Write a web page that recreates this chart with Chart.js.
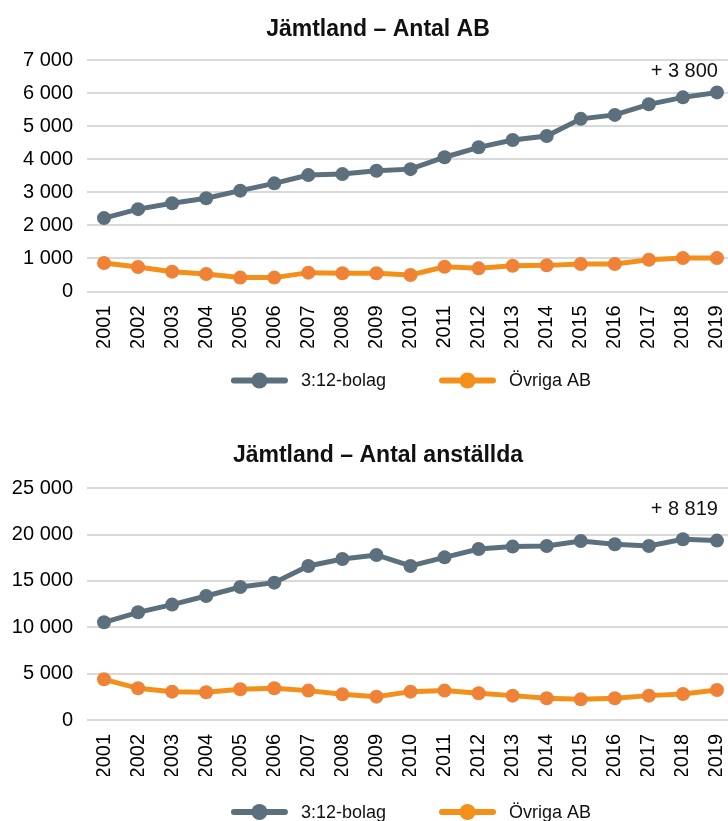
<!DOCTYPE html>
<html>
<head>
<meta charset="utf-8">
<script src="https://cdn.jsdelivr.net/npm/chart.js@4/dist/chart.umd.min.js"></script>
<style>
  html, body { margin: 0; padding: 0; background: #fff; overflow: hidden; width: 728px; height: 821px; }
  canvas { position: absolute; left: 0; }
  #chartAB { top: 0; }
  #chartAnst { top: 425px; }
</style>
</head>
<body>
<canvas id="chartAB" width="741" height="400"></canvas>
<canvas id="chartAnst" width="741" height="406"></canvas>
<script>
const years = ['2001', '2002', '2003', '2004', '2005', '2006', '2007', '2008', '2009', '2010',
               '2011', '2012', '2013', '2014', '2015', '2016', '2017', '2018', '2019'];
const seriesNames = ['3:12-bolag', 'Övriga AB'];

// Antal AB
const ab312 = [2220, 2490, 2670, 2820, 3050, 3270, 3520, 3550, 3650, 3700,
               4060, 4360, 4580, 4700, 5220, 5340, 5660, 5870, 6020];
const abOvriga = [860, 740, 600, 530, 420, 420, 570, 550, 550, 500,
                  750, 700, 780, 790, 830, 830, 960, 1010, 1010];

// Antal anställda
const anst312 = [10540, 11620, 12450, 13380, 14350, 14820, 16620, 17370, 17810, 16620,
                 17550, 18450, 18710, 18780, 19320, 18960, 18780, 19500, 19359];
const anstOvriga = [4390, 3420, 3060, 2990, 3310, 3420, 3170, 2770, 2520, 3060,
                    3170, 2880, 2630, 2340, 2230, 2340, 2630, 2810, 3240];

const grey = '#5b6f7d';
const orange = '#f39019';
const orangeDot = '#ef8236';
const FONT = '"Liberation Sans", Arial, sans-serif';

function fmt(v) {
  return String(v).replace(/\B(?=(\d{3})+(?!\d))/g, ' ');
}

// title, end annotation and Excel-style legend (line + dot)
const extras = {
  id: 'extras',
  afterDraw(chart, args, o) {
    const ctx = chart.ctx;
    const area = chart.chartArea;
    ctx.save();

    ctx.font = 'bold 23px ' + FONT;
    ctx.fillStyle = '#111';
    ctx.textAlign = 'center';
    ctx.textBaseline = 'alphabetic';
    ctx.fillText(o.title, o.titleX, o.titleY);

    const xe = chart.scales.x.getPixelForValue(years.length - 1);
    ctx.font = '20px ' + FONT;
    ctx.textAlign = 'right';
    ctx.textBaseline = 'middle';
    ctx.fillText(o.endText, xe + 1, chart.scales.y.getPixelForValue(o.endValue));

    ctx.font = '18px ' + FONT;
    const widths = chart.data.datasets.map(d => ctx.measureText(d.label).width);
    const total = widths.reduce((a, w) => a + 57 + 13 + w, 0) + 53 * (widths.length - 1);
    let x = o.legendCenter - total / 2;
    const y = area.bottom + o.legendGap;
    chart.data.datasets.forEach((d, i) => {
      ctx.strokeStyle = d.borderColor;
      ctx.fillStyle = d.borderColor;
      ctx.lineWidth = 6;
      ctx.lineCap = 'round';
      ctx.beginPath(); ctx.moveTo(x + 3, y); ctx.lineTo(x + 54, y); ctx.stroke();
      ctx.beginPath(); ctx.arc(x + 28.5, y, 8, 0, Math.PI * 2); ctx.fill();
      ctx.fillStyle = '#111';
      ctx.textAlign = 'left';
      ctx.fillText(d.label, x + 70, y + 1);
      x += 57 + 13 + widths[i] + 53;
    });
    ctx.restore();
  }
};

function makeChart(id, s1, s2, yMax, yStep, cfg) {
  return new Chart(document.getElementById(id), {
    type: 'line',
    data: {
      labels: years,
      datasets: [
        { label: seriesNames[0], data: s1, borderColor: grey, backgroundColor: grey,
          borderWidth: 5, pointRadius: 7, pointHoverRadius: 7, pointBorderWidth: 0 },
        { label: seriesNames[1], data: s2, borderColor: orange, backgroundColor: orangeDot,
          borderWidth: 5, pointRadius: 7, pointHoverRadius: 7, pointBorderWidth: 0 }
      ]
    },
    plugins: [extras],
    options: {
      responsive: false,
      animation: false,
      layout: { padding: { left: 0, right: 2, top: cfg.top, bottom: cfg.bottom } },
      scales: {
        x: {
          offset: true,
          grid: { display: false },
          border: { display: false },
          ticks: {
            minRotation: 90, maxRotation: 90, padding: 6, autoSkip: false,
            color: '#000', font: { family: FONT, size: 20 }
          },
          afterFit(scale) {
            scale.height = 56;
            scale.paddingLeft = 0;
            scale.paddingRight = 0;
          }
        },
        y: {
          min: 0, max: yMax,
          grid: { color: '#d9d9d9', lineWidth: 2, drawTicks: false },
          border: { display: false },
          ticks: {
            stepSize: yStep, padding: 14, color: '#000',
            font: { family: FONT, size: 20 },
            callback: v => fmt(v)
          },
          afterFit(scale) { scale.width = 87; }
        }
      },
      plugins: {
        legend: { display: false },
        tooltip: { enabled: false },
        extras: cfg.extras
      }
    }
  });
}

makeChart('chartAB', ab312, abOvriga, 7000, 1000, {
  top: 60, bottom: 52.5,
  extras: { title: 'Jämtland – Antal AB', titleX: 378, titleY: 36,
            endText: '+ 3 800', endValue: 6650, legendGap: 89, legendCenter: 411 }
});
makeChart('chartAnst', anst312, anstOvriga, 25000, 5000, {
  top: 63.3, bottom: 55,
  extras: { title: 'Jämtland – Antal anställda', titleX: 378, titleY: 37,
            endText: '+ 8 819', endValue: 22750, legendGap: 92, legendCenter: 411 }
});
</script>
</body>
</html>
